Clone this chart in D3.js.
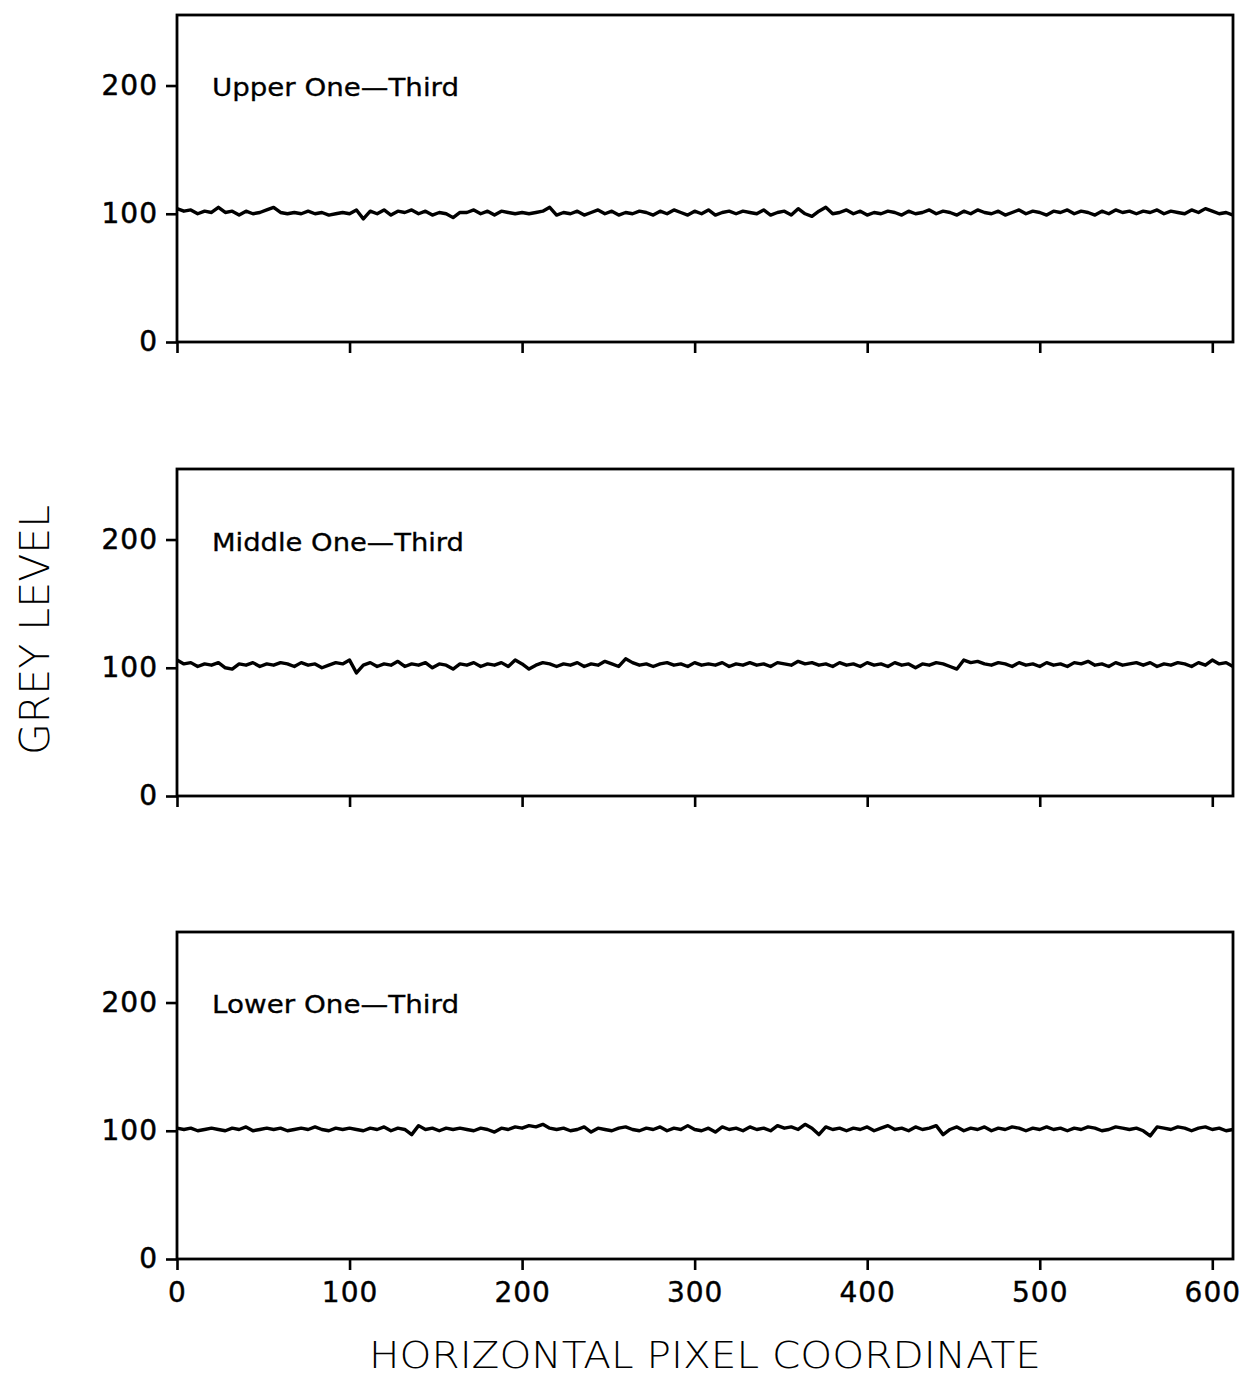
<!DOCTYPE html>
<html><head><meta charset="utf-8">
<script src="https://cdn.jsdelivr.net/npm/d3@7"></script>
<style>body{margin:0;background:#fff}</style>
</head><body><svg id="c" width="1249" height="1379"></svg>
<script>
// ---- data ----
const xTicks = [0, 100, 200, 300, 400, 500, 600];
const yTicks = [0, 100, 200];
const panelLabels = ["Upper One\u2014Third", "Middle One\u2014Third", "Lower One\u2014Third"];
const xAxisTitle = "HORIZONTAL PIXEL COORDINATE";
const yAxisTitle = "GREY LEVEL";
const sampleStep = 4; // grey level read every 4 pixel columns, from 0 to 612

const upperThird = [
 104,102,103,100,102,101,105,101,102,99,102,100,101,103,
 105,101,100,101,100,102,100,101,99,100,101,100,103,96,
 102,100,103,99,102,101,103,100,102,99,101,100,97,101,
 101,103,100,102,99,102,101,100,101,100,101,102,105,99,
 101,100,102,99,101,103,100,102,99,101,100,102,101,99,
 102,100,103,101,99,102,100,103,99,101,102,100,102,101,
 100,103,99,101,102,99,104,100,98,102,105,100,101,103,
 100,102,99,101,100,102,101,99,102,100,101,103,100,102,
 101,99,102,100,103,101,100,102,99,101,103,100,102,101,
 99,102,101,103,100,102,101,99,102,100,103,101,102,100,
 102,101,103,100,102,101,100,103,101,104,102,100,101,99
];
const middleThird = [
 106,103,104,101,103,102,104,100,99,103,102,104,101,103,
 102,104,103,101,104,102,103,100,102,104,103,106,96,102,
 104,101,103,102,105,101,103,102,104,100,103,102,99,103,
 102,104,101,103,102,104,101,106,103,99,102,104,103,101,
 103,102,104,101,103,102,105,103,101,107,104,102,103,101,
 103,104,102,103,101,104,102,103,102,104,101,103,102,104,
 102,103,101,104,103,102,105,103,104,102,103,101,104,102,
 103,101,104,102,103,101,104,102,103,100,103,102,104,103,
 101,99,106,104,105,103,102,104,103,101,104,102,103,101,
 104,102,103,101,104,103,105,102,103,101,104,102,103,104,
 102,104,101,103,102,104,103,101,104,102,106,103,104,101
];
const lowerThird = [
 102,101,102,100,101,102,101,100,102,101,103,100,101,102,
 101,102,100,101,102,101,103,101,100,102,101,102,101,100,
 102,101,103,100,102,101,97,104,101,102,100,102,101,102,
 101,100,102,101,99,102,101,103,102,104,103,105,102,101,
 102,100,101,103,99,102,101,100,102,103,101,100,102,101,
 103,100,102,101,104,101,100,102,99,103,101,102,100,103,
 101,102,100,104,102,103,101,105,102,97,103,101,102,100,
 102,101,103,100,102,104,101,102,100,103,101,102,104,97,
 101,103,100,102,101,103,100,102,101,103,102,100,102,101,
 103,101,102,100,102,101,103,102,100,101,103,102,101,102,
 100,96,103,102,101,103,102,100,102,103,101,102,100,101
];
const seriesList = [upperThird, middleThird, lowerThird];

// ---- layout ----
const svg = d3.select("#c");
const left = 177, right = 1233;
const panelTops = [15, 469, 932];
const panelH = 327;
const labelBaselines = [96, 551, 1013];
const labelWidths = [247, 252, 247];

const x = d3.scaleLinear().domain([0, 612]).range([left, right]);
const font = "'DejaVu Sans', Verdana, sans-serif";

seriesList.forEach((vals, i) => {
  const top = panelTops[i];
  const y = d3.scaleLinear().domain([0, 255]).range([top + panelH, top]);
  const g = svg.append("g");

  // frame
  g.append("rect").attr("x", left).attr("y", top)
    .attr("width", right - left).attr("height", panelH)
    .attr("fill", "none").attr("stroke", "#000").attr("stroke-width", 2.8);

  // y axis
  const ya = g.append("g").attr("transform", `translate(${left},0)`)
    .call(d3.axisLeft(y).tickValues(yTicks).tickSize(11).tickPadding(8));
  ya.select(".domain").remove();
  ya.selectAll("line").attr("stroke", "#000").attr("stroke-width", 2.6);
  ya.selectAll("text").attr("font-family", font).attr("font-size", 28)
    .attr("fill", "#000").attr("stroke", "#000").attr("stroke-width", 0.5)
    .attr("letter-spacing", 1);

  // x axis
  const xa = g.append("g").attr("transform", `translate(0,${top + panelH})`)
    .call(d3.axisBottom(x).tickValues(xTicks).tickSize(11).tickPadding(12));
  xa.select(".domain").remove();
  xa.selectAll("line").attr("stroke", "#000").attr("stroke-width", 2.6);
  if (i < 2) xa.selectAll("text").remove();
  else xa.selectAll("text").attr("font-family", font).attr("font-size", 28)
    .attr("fill", "#000").attr("stroke", "#000").attr("stroke-width", 0.4)
    .attr("letter-spacing", 1);

  // trace
  const pts = vals.map((v, k) => [k * sampleStep, v]);
  g.append("path").datum(pts)
    .attr("fill", "none").attr("stroke", "#000").attr("stroke-width", 3.4)
    .attr("stroke-linejoin", "round")
    .attr("d", d3.line().x(d => x(d[0])).y(d => y(d[1])));

  // panel label
  g.append("text").attr("x", 212).attr("y", labelBaselines[i])
    .attr("font-family", font).attr("font-size", 24).attr("fill", "#000")
    .attr("stroke", "#000").attr("stroke-width", 0.3)
    .attr("textLength", labelWidths[i]).attr("lengthAdjust", "spacingAndGlyphs")
    .text(panelLabels[i]);
});

// axis titles
svg.append("text").attr("x", 705).attr("y", 1368).attr("text-anchor", "middle")
  .attr("font-family", font).attr("font-size", 38).attr("font-weight", 300)
  .attr("textLength", 672).attr("lengthAdjust", "spacingAndGlyphs")
  .attr("fill", "#000").text(xAxisTitle);
svg.append("text").attr("transform", "translate(49,630) rotate(-90)")
  .attr("text-anchor", "middle")
  .attr("font-family", font).attr("font-size", 40).attr("font-weight", 300)
  .attr("textLength", 250).attr("lengthAdjust", "spacingAndGlyphs")
  .attr("fill", "#000").text(yAxisTitle);
</script>
</body></html>
